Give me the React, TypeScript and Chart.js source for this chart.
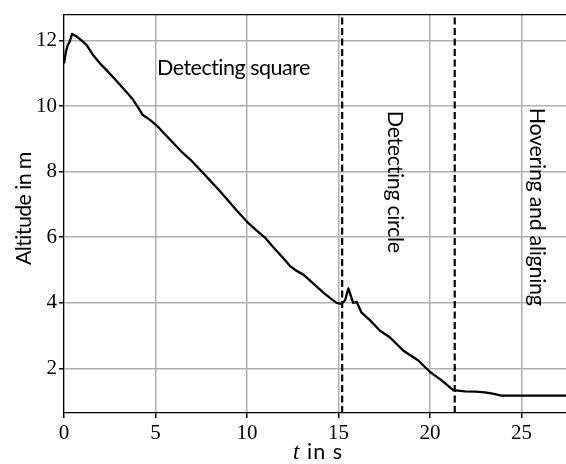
import React, { useEffect, useRef } from "react";
import { Chart, registerables } from "chart.js";

Chart.register(...registerables);

const time = [
  0, 0.1, 0.2, 0.3, 0.44, 0.7, 1.0, 1.25, 1.6, 1.97, 2.4, 2.9, 3.3, 3.77, 4.0, 4.3, 4.7, 5.08, 5.5,
  5.96, 6.4, 6.9, 7.5, 8.0, 8.5, 9.0, 9.5, 10.0, 10.5, 11.0, 11.5, 12.0, 12.35, 12.7, 13.08, 13.6,
  14.17, 14.6, 14.9, 15.17, 15.36, 15.54, 15.8, 15.99, 16.26, 16.7, 17.27, 17.8, 18.55, 19.36, 20.0,
  20.6, 21.27, 21.9, 22.5, 23.0, 23.5, 23.9, 24.5, 25.5, 26.5, 27.5,
];
const altitude = [
  11.3, 11.65, 11.85, 11.95, 12.2, 12.12, 11.98, 11.85, 11.55, 11.3, 11.05, 10.75, 10.5, 10.2, 10.0,
  9.73, 9.58, 9.4, 9.15, 8.88, 8.62, 8.37, 8.02, 7.72, 7.42, 7.1, 6.78, 6.47, 6.22, 5.98, 5.66, 5.35,
  5.12, 4.98, 4.86, 4.6, 4.31, 4.12, 4.0, 3.97, 4.08, 4.44, 4.0, 4.03, 3.7, 3.48, 3.15, 2.95, 2.54,
  2.24, 1.89, 1.65, 1.34, 1.3, 1.29, 1.27, 1.22, 1.17, 1.17, 1.17, 1.17, 1.17,
];
const phaseBoundaries = [15.2, 21.35];
const xTicks = [0, 5, 10, 15, 20, 25];
const yTicks = [2, 4, 6, 8, 10, 12];
const phaseLabels = ["Detecting square", "Detecting circle", "Hovering and aligning"];

const X_MIN = 0;
const X_MAX = 27.43;
const Y_MIN = 0.64;
const Y_MAX = 12.79;

const SANS = "Lato, 'DejaVu Sans', sans-serif";
const SERIF = "'Liberation Serif', 'DejaVu Serif', serif";

function fitText(ctx: any, text: string, family: string, size: number, target: number, style = "") {
  ctx.font = `${style} ${size}px ${family}`;
  ctx.letterSpacing = "0.01px";
  const w = ctx.measureText(text).width;
  let ls = (target - w) / text.length;
  if (Math.abs(ls) < 0.02) ls = 0.02;
  ctx.letterSpacing = `${ls}px`;
}

const textPlugin = {
  id: "textPlugin",
  afterDraw(chart: any) {
    const ctx: any = chart.ctx;
    const { left, right, top } = chart.chartArea;
    const xs = chart.scales.x;
    const ys = chart.scales.y;
    ctx.save();
    ctx.strokeStyle = "#000";
    ctx.lineWidth = 1.2;
    ctx.beginPath();
    ctx.moveTo(left, top);
    ctx.lineTo(right, top);
    ctx.stroke();

    ctx.fillStyle = "#000";
    ctx.textBaseline = "alphabetic";
    ctx.textAlign = "left";

    fitText(ctx, phaseLabels[0], SANS, 21.5, 153);
    ctx.fillText(phaseLabels[0], xs.getPixelForValue(5.08), ys.getPixelForValue(10.96));

    ctx.save();
    ctx.translate(xs.getPixelForValue(17.7), ys.getPixelForValue(9.855));
    ctx.rotate(Math.PI / 2);
    fitText(ctx, phaseLabels[1], SANS, 21.5, 142);
    ctx.fillText(phaseLabels[1], 0, 0);
    ctx.restore();

    ctx.save();
    ctx.translate(xs.getPixelForValue(25.46), ys.getPixelForValue(9.95));
    ctx.rotate(Math.PI / 2);
    fitText(ctx, phaseLabels[2], SANS, 21.5, 198);
    ctx.fillText(phaseLabels[2], 0, 0);
    ctx.restore();

    ctx.save();
    ctx.translate(31, 265);
    ctx.rotate(-Math.PI / 2);
    fitText(ctx, "Altitude in m", SANS, 21.5, 113);
    ctx.fillText("Altitude in m", 0, 0);
    ctx.restore();

    ctx.letterSpacing = "0px";
    ctx.font = `italic 23px ${SERIF}`;
    ctx.fillText("t", 293, 459);
    fitText(ctx, "in s", SANS, 21.5, 36);
    ctx.fillText("in s", 307, 459);

    ctx.restore();
  },
};

export default function App() {
  const canvasRef = useRef<HTMLCanvasElement | null>(null);

  useEffect(() => {
    document.body.style.margin = "0";
    const canvas = canvasRef.current;
    if (!canvas) return;
    const lineData = time.map((t, i) => ({ x: t, y: altitude[i] }));
    const dashSets = phaseBoundaries.map((b) => ({
      data: [
        { x: b, y: Y_MIN },
        { x: b, y: Y_MAX },
      ],
      borderColor: "#000",
      borderWidth: 2.2,
      borderDash: [7, 3.5],
      pointRadius: 0,
      tension: 0,
    }));
    const chart = new Chart(canvas, {
      type: "line",
      data: {
        datasets: [
          {
            data: lineData,
            borderColor: "#000",
            borderWidth: 2.3,
            pointRadius: 0,
            tension: 0,
            borderJoinStyle: "round",
          },
          ...dashSets,
        ],
      } as any,
      options: {
        animation: false,
        responsive: false,
        devicePixelRatio: 1,
        layout: { padding: { top: 11, right: 0, left: 0, bottom: 0 } },
        plugins: { legend: { display: false }, tooltip: { enabled: false } },
        scales: {
          x: {
            type: "linear",
            min: X_MIN,
            max: X_MAX,
            afterBuildTicks: (s: any) => {
              s.ticks = xTicks.map((v) => ({ value: v }));
            },
            afterFit: (s: any) => {
              s.height = 51;
            },
            grid: { color: "#b0b0b0", lineWidth: 1.5, tickColor: "#000", tickLength: 5, drawTicks: true },
            border: { display: true, color: "#000", width: 1.2 },
            ticks: { color: "#000", font: { family: SERIF, size: 21 }, padding: 3, maxRotation: 0 },
          },
          y: {
            type: "linear",
            min: Y_MIN,
            max: Y_MAX,
            afterBuildTicks: (s: any) => {
              s.ticks = yTicks.map((v) => ({ value: v }));
            },
            afterFit: (s: any) => {
              s.width = 64;
            },
            grid: { color: "#b0b0b0", lineWidth: 1.5, tickColor: "#000", tickLength: 5, drawTicks: true },
            border: { display: true, color: "#000", width: 1.2 },
            ticks: { color: "#000", font: { family: SERIF, size: 21 }, padding: 2 },
          },
        },
      } as any,
      plugins: [textPlugin],
    });
    return () => chart.destroy();
  }, []);

  return (
    <div style={{ width: 566, height: 464, overflow: "hidden" }}>
      <canvas ref={canvasRef} width={566} height={464} style={{ display: "block" }} />
    </div>
  );
}
